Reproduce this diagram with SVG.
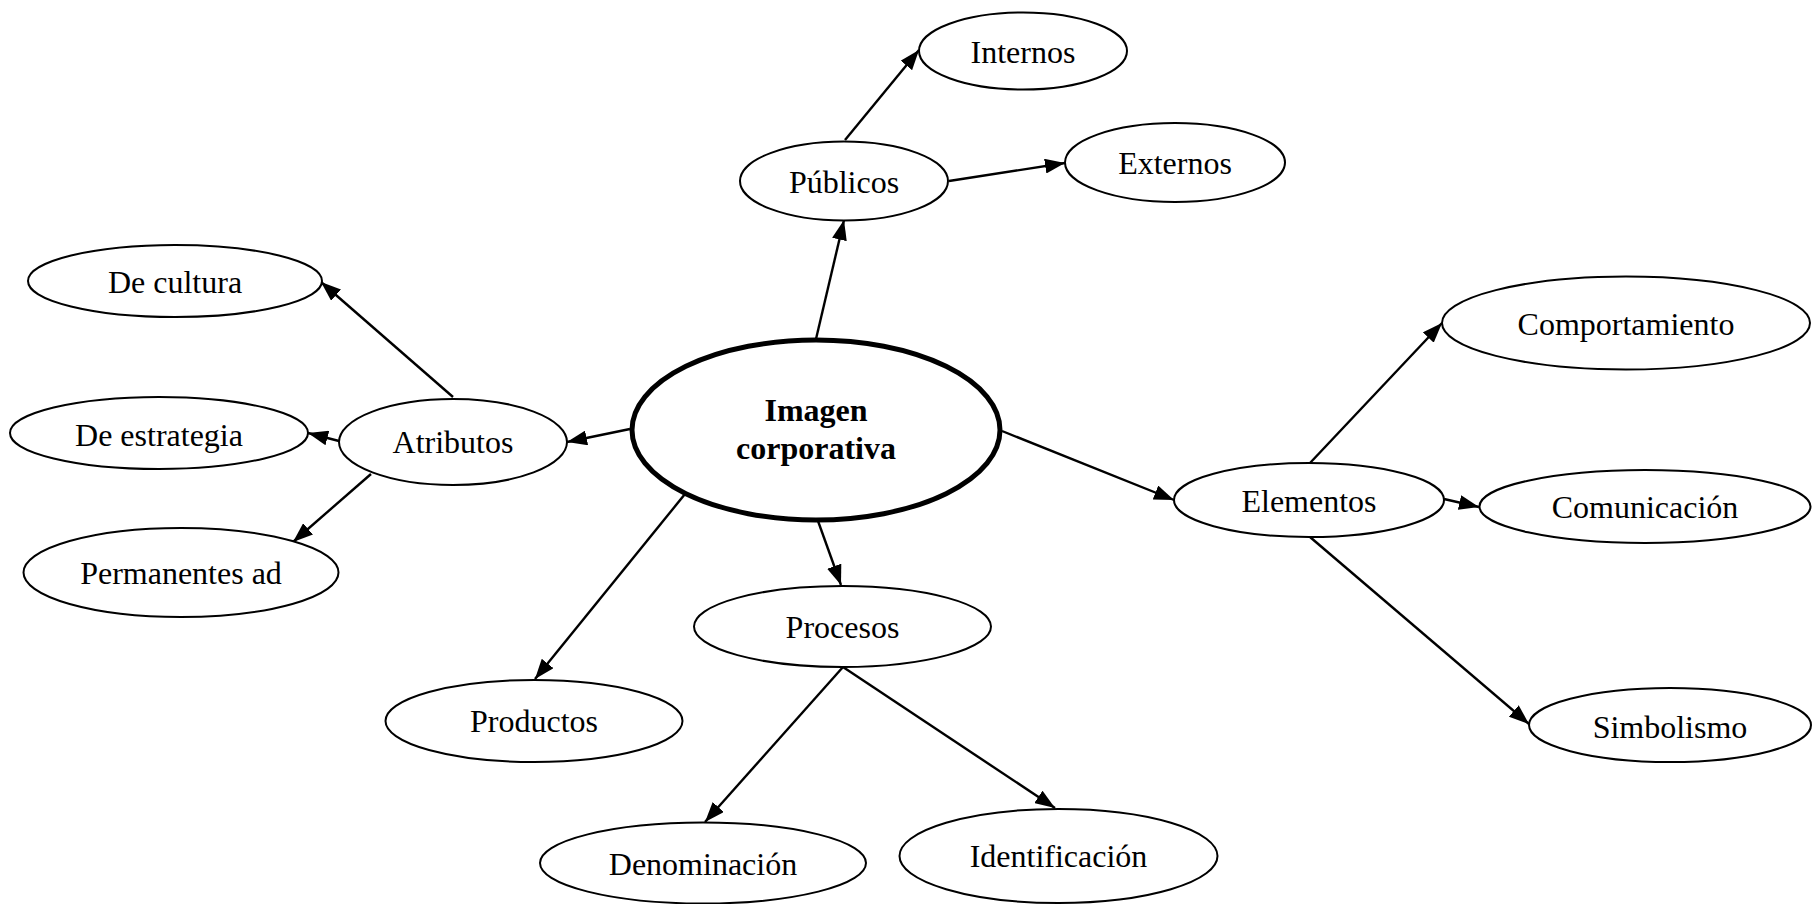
<svg xmlns="http://www.w3.org/2000/svg" width="1813" height="904" viewBox="0 0 1813 904">
<style>
.n ellipse{fill:#fff;stroke:#000;stroke-width:2}
.n text{font-family:"Liberation Serif","Times New Roman",serif;font-size:32px;text-anchor:middle;fill:#000}
#central ellipse{stroke-width:5}
#central text{font-weight:bold}
.c line{stroke:#000;stroke-width:2.4;marker-end:url(#ah)}
</style>
<defs>
<marker id="ah" markerUnits="userSpaceOnUse" markerWidth="21" markerHeight="15" refX="20" refY="7.5" orient="auto">
<path d="M0,0 L20,7.5 L0,15 z" fill="#000"/>
</marker>
</defs>
<rect width="1813" height="904" fill="#fff"/>
<g id="connectors" class="c">
<line x1="816" y1="339" x2="844" y2="220"/>
<line x1="845" y1="140" x2="919" y2="50"/>
<line x1="949" y1="181" x2="1065" y2="163"/>
<line x1="630" y1="429" x2="567" y2="442"/>
<line x1="453" y1="397" x2="321" y2="282"/>
<line x1="339" y1="441" x2="308" y2="433"/>
<line x1="371" y1="474" x2="293" y2="542"/>
<line x1="685" y1="494" x2="535" y2="679"/>
<line x1="818" y1="521" x2="841" y2="585"/>
<line x1="843" y1="667" x2="705" y2="822"/>
<line x1="843" y1="667" x2="1055" y2="808"/>
<line x1="1002" y1="431" x2="1174" y2="500"/>
<line x1="1310" y1="463" x2="1442" y2="323"/>
<line x1="1444" y1="499" x2="1479" y2="507"/>
<line x1="1310" y1="537" x2="1529" y2="724"/>
</g>
<g id="central" class="n"><ellipse cx="816" cy="430" rx="184" ry="90"/><text x="816" y="421">Imagen</text><text x="816" y="459">corporativa</text></g>
<g id="publicos" class="n"><ellipse cx="844" cy="181" rx="104" ry="39.5"/><text x="844" y="193">Públicos</text></g>
<g id="internos" class="n"><ellipse cx="1023" cy="51" rx="104" ry="38.5"/><text x="1023" y="63">Internos</text></g>
<g id="externos" class="n"><ellipse cx="1175" cy="162.5" rx="110" ry="39.5"/><text x="1175" y="174">Externos</text></g>
<g id="atributos" class="n"><ellipse cx="453" cy="442" rx="114" ry="43"/><text x="453" y="453">Atributos</text></g>
<g id="decultura" class="n"><ellipse cx="175" cy="281" rx="147" ry="36"/><text x="175" y="293">De cultura</text></g>
<g id="deestrategia" class="n"><ellipse cx="159" cy="433" rx="149" ry="36"/><text x="159" y="446">De estrategia</text></g>
<g id="permanentes" class="n"><ellipse cx="181" cy="572.5" rx="157.5" ry="44.5"/><text x="181" y="584">Permanentes ad</text></g>
<g id="elementos" class="n"><ellipse cx="1309" cy="500" rx="135" ry="37"/><text x="1309" y="512">Elementos</text></g>
<g id="comportamiento" class="n"><ellipse cx="1626" cy="323" rx="184" ry="46.5"/><text x="1626" y="335">Comportamiento</text></g>
<g id="comunicacion" class="n"><ellipse cx="1645" cy="506.5" rx="165.5" ry="36.5"/><text x="1645" y="518">Comunicación</text></g>
<g id="simbolismo" class="n"><ellipse cx="1670" cy="725" rx="141" ry="37"/><text x="1670" y="738">Simbolismo</text></g>
<g id="procesos" class="n"><ellipse cx="842.5" cy="626.5" rx="148.5" ry="40.5"/><text x="842.5" y="638">Procesos</text></g>
<g id="productos" class="n"><ellipse cx="534" cy="721" rx="148.5" ry="41"/><text x="534" y="732">Productos</text></g>
<g id="denominacion" class="n"><ellipse cx="703" cy="863" rx="163" ry="40.5"/><text x="703" y="875">Denominación</text></g>
<g id="identificacion" class="n"><ellipse cx="1058.5" cy="856" rx="159" ry="47"/><text x="1058.5" y="867">Identificación</text></g>
</svg>
